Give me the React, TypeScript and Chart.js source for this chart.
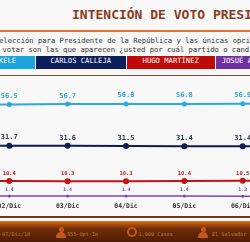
import React, { useEffect, useRef } from "react";
import { Chart, registerables } from "chart.js";

Chart.register(...registerables);

// Categories (01/Dic and 07/Dic sit just outside the visible crop)
const days = ["01/Dic", "02/Dic", "03/Dic", "04/Dic", "05/Dic", "06/Dic", "07/Dic"];
const bukele = [56.4, 56.5, 56.7, 56.8, 56.8, 56.9, 57.0];
const calleja = [31.8, 31.7, 31.6, 31.5, 31.4, 31.4, 31.3];
const martinez = [10.4, 10.4, 10.3, 10.3, 10.4, 10.5, 10.5];
const josue = [1.4, 1.4, 1.4, 1.4, 1.4, 1.3, 1.3];

const seriesNames = ["NAYIB BUKELE", "CARLOS CALLEJA", "HUGO MARTÍNEZ", "JOSUÉ ALVARADO"];
const lineColors = ["#2aa9df", "#0c1d55", "#c0141a", "#7a45c0"];
const labelColors = ["#2ba3d3", "#2a3550", "#c0201a", "#7b4aa5"];
const labelFonts = ["bold 7px 'DejaVu Sans Mono'", "bold 7px 'DejaVu Sans Mono'", "bold 5.5px 'DejaVu Sans Mono'", "bold 4.8px 'DejaVu Sans Mono'"];
const labelOffsets = [8.3, 8, 7.7, 6];

const MONO = "'DejaVu Sans Mono', monospace";

const labelPlugin = {
  id: "valueLabels",
  afterDatasetsDraw(chart: any) {
    const ctx = chart.ctx;
    ctx.save();
    ctx.textAlign = "center";
    ctx.textBaseline = "middle";
    chart.data.datasets.forEach((ds: any, i: number) => {
      const meta = chart.getDatasetMeta(i);
      meta.data.forEach((pt: any, j: number) => {
        ctx.font = labelFonts[i];
        ctx.fillStyle = labelColors[i];
        ctx.fillText(Number(ds.data[j]).toFixed(1), pt.x, pt.y - labelOffsets[i]);
      });
    });
    const xs = chart.scales.x;
    ctx.font = "bold 6.5px 'DejaVu Sans Mono'";
    ctx.fillStyle = "#333333";
    days.forEach((d, j) => {
      ctx.fillText(d, xs.getPixelForValue(j), 128.7);
    });
    ctx.restore();
  },
};

function LineChart() {
  const ref = useRef<HTMLCanvasElement>(null);
  useEffect(() => {
    if (!ref.current) return;
    const all = [bukele, calleja, martinez, josue];
    const chart = new Chart(ref.current, {
      type: "line",
      data: {
        labels: days,
        datasets: all.map((d, i) => ({
          label: seriesNames[i],
          data: d,
          borderColor: lineColors[i],
          backgroundColor: lineColors[i],
          pointBackgroundColor: lineColors[i],
          pointBorderColor: lineColors[i],
          borderWidth: i === 3 ? 1.5 : 2,
          pointRadius: i === 0 ? 2.5 : i === 3 ? 1.5 : 3,
          pointBorderWidth: 0,
          tension: 0,
          fill: false,
          clip: false as any,
        })),
      },
      options: {
        responsive: false,
        animation: false,
        devicePixelRatio: 1,
        layout: { padding: { left: 10.95, right: 8.95, top: 20.58, bottom: 14.67 } },
        plugins: { legend: { display: false }, tooltip: { enabled: false } },
        scales: {
          x: { display: false, offset: false },
          y: { display: false, min: 0, max: 60 },
        },
      },
      plugins: [labelPlugin],
    });
    return () => chart.destroy();
  }, []);
  return (
    <canvas
      ref={ref}
      width={370}
      height={135}
      style={{ position: "absolute", left: -60, top: 78, width: 370, height: 135 }}
    />
  );
}

const legendBoxes = [
  { left: -55, width: 90, color: "#1aa3de", textLeft: -35.8 },
  { left: 36, width: 90, color: "#0a1f5c", textLeft: 50.5 },
  { left: 127, width: 88, color: "#c00a0a", textLeft: 142.6 },
  { left: 216, width: 90, color: "#7030a0", textLeft: 221.7 },
];

function Icon({ x, kind }: { x: number; kind: number }) {
  const c = "#c8581a";
  if (kind === 1) {
    return (
      <div style={{ position: "absolute", left: x, top: 227, width: 10, height: 11 }}>
        <div style={{ position: "absolute", left: 3, top: 0, width: 5, height: 5, borderRadius: "50%", background: c }} />
        <div style={{ position: "absolute", left: 0, top: 5, width: 10, height: 6, borderRadius: "5px 5px 1px 1px", background: c }} />
      </div>
    );
  }
  return (
    <div style={{ position: "absolute", left: x, top: 227, width: 10, height: 10, borderRadius: "50%", border: `2px solid ${c}`, boxSizing: "border-box" }} />
  );
}

export default function App() {
  return (
    <div
      style={{
        position: "fixed",
        left: 0,
        top: 0,
        width: 250,
        height: 242,
        overflow: "hidden",
        background: "#f8f8f8",
        fontFamily: MONO,
      }}
    >
      <div
        style={{
          position: "absolute",
          left: 72,
          top: 6,
          whiteSpace: "nowrap",
          font: `bold 13px ${MONO}`,
          lineHeight: "18px",
          color: "#8a3b1a",
        }}
      >
        INTENCIÓN DE VOTO PRESIDENCIAL
      </div>
      <div style={{ position: "absolute", left: 0, top: 30, width: 250, height: 2, background: "#e5742a" }} />
      <div
        style={{
          position: "absolute",
          left: -1,
          top: 36,
          whiteSpace: "nowrap",
          font: `7.2px ${MONO}`,
          lineHeight: "9px",
          color: "#333",
        }}
      >
        elección para Presidente de la República y las únicas opciones por las que se puede
      </div>
      <div
        style={{
          position: "absolute",
          left: 2.5,
          top: 44.5,
          whiteSpace: "nowrap",
          font: `7.2px ${MONO}`,
          lineHeight: "9px",
          color: "#333",
        }}
      >
        votar son las que aparecen ¿usted por cuál partido o candidato votaría?
      </div>
      {legendBoxes.map((b, i) => (
        <React.Fragment key={i}>
          <div style={{ position: "absolute", left: b.left, top: 56, width: b.width, height: 12.5, background: b.color }} />
          <div
            style={{
              position: "absolute",
              left: b.textLeft,
              top: 56,
              height: 12.5,
              lineHeight: "12.5px",
              whiteSpace: "nowrap",
              font: `7.2px ${MONO}`,
              color: "#ffffff",
            }}
          >
            {seriesNames[i]}
          </div>
        </React.Fragment>
      ))}
      <div style={{ position: "absolute", left: 0, top: 74.5, width: 250, height: 1.5, background: "#8b4a2b" }} />
      <LineChart />
      <div style={{ position: "absolute", left: 0, top: 216, width: 250, height: 1.5, background: "#7a3518" }} />
      <div
        style={{
          position: "absolute",
          left: 0,
          top: 221,
          width: 250,
          height: 21,
          background: "linear-gradient(to bottom, #e0701e 0px, #b0500f 3px, #6e2c08 8px, #4f1e05 100%)",
        }}
      />
      <Icon x={56} kind={1} />
      <Icon x={127} kind={2} />
      <Icon x={198} kind={1} />
      {[
        { x: -1, t: "-07/Dic/18" },
        { x: 67, t: "555-Opt-In" },
        { x: 138.5, t: "1,000 Casos" },
        { x: 212, t: "El Salvador" },
      ].map((f, i) => (
        <div
          key={i}
          style={{
            position: "absolute",
            left: f.x,
            top: 231,
            lineHeight: "8px",
            whiteSpace: "nowrap",
            font: `5.2px ${MONO}`,
            color: "#c07a4a",
          }}
        >
          {f.t}
        </div>
      ))}
    </div>
  );
}
